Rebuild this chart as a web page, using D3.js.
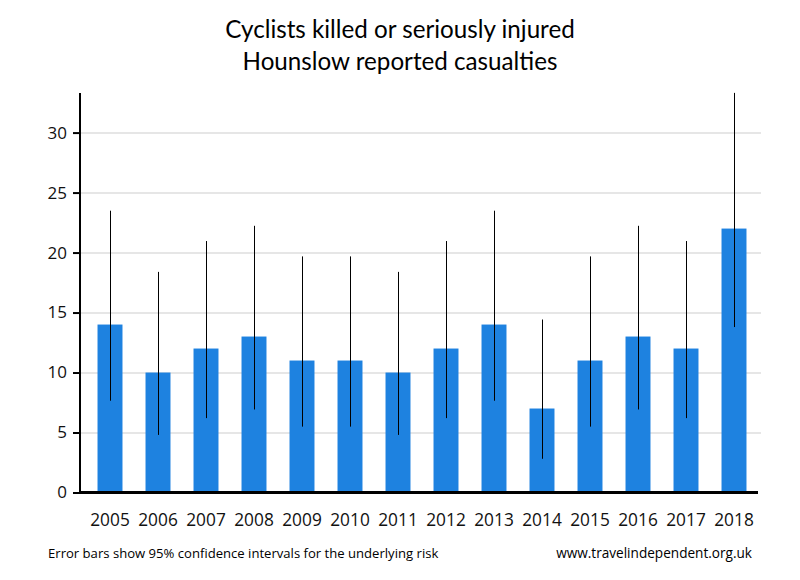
<!DOCTYPE html>
<html><head><meta charset="utf-8">
<script src="https://cdn.jsdelivr.net/npm/d3@7"></script>
<style>body{margin:0;background:#fff}svg{display:block}</style>
</head><body>
<svg id="c" width="800" height="580"></svg>
<script>
const years = ["2005","2006","2007","2008","2009","2010","2011","2012","2013","2014","2015","2016","2017","2018"];
const casualties = [14,10,12,13,11,11,10,12,14,7,11,13,12,22];
const ciLow  = [7.65,4.80,6.20,6.92,5.49,5.49,4.80,6.20,7.65,2.81,5.49,6.92,6.20,13.79];
const ciHigh = [23.49,18.39,20.96,22.23,19.68,19.68,18.39,20.96,23.49,14.42,19.68,22.23,20.96,33.31];
const yTicks = [0,5,10,15,20,25,30];
const titleLines = ["Cyclists killed or seriously injured","Hounslow reported casualties"];
const noteLeft = "Error bars show 95% confidence intervals for the underlying risk";
const noteRight = "www.travelindependent.org.uk";

const svg = d3.select("#c");
const x = d3.scaleBand().domain(years).range([86,758]).paddingInner(0.48).paddingOuter(0.24);
const y = d3.scaleLinear().domain([0,33.3]).range([492.5,93]);
const font = "'Open Sans', sans-serif";
const cx = d => Math.round(x(d)+x.bandwidth()/2)+0.5;

// grid
svg.append("g").selectAll("line").data(yTicks.filter(d=>d>0)).join("line")
  .attr("x1",80).attr("x2",761).attr("y1",d=>Math.round(y(d))).attr("y2",d=>Math.round(y(d)))
  .attr("stroke","#e6e6e6").attr("stroke-width",2);

// bars
svg.append("g").selectAll("rect").data(years).join("rect")
  .attr("x",d=>x(d)).attr("width",x.bandwidth())
  .attr("y",(d,i)=>y(casualties[i])).attr("height",(d,i)=>y(0)-y(casualties[i]))
  .attr("fill","#1e82e0");

// error bars
svg.append("g").selectAll("line").data(years).join("line")
  .attr("x1",cx).attr("x2",cx)
  .attr("y1",(d,i)=>y(ciLow[i])).attr("y2",(d,i)=>y(ciHigh[i]))
  .attr("stroke","#000").attr("stroke-width",1);

// y axis
const ya = svg.append("g").attr("transform","translate(80,0)")
  .call(d3.axisLeft(y).tickValues(yTicks).tickSize(7).tickPadding(6).tickSizeOuter(0));
ya.select(".domain").remove();
ya.selectAll(".tick line").attr("stroke","#000").attr("stroke-width",2);
ya.selectAll("text").attr("font-family",font).attr("font-size",17).attr("fill","#111");
svg.append("line").attr("x1",80).attr("x2",80).attr("y1",93).attr("y2",493.5).attr("stroke","#000").attr("stroke-width",2);

// x axis
const xa = svg.append("g").attr("transform","translate(0,492.5)")
  .call(d3.axisBottom(x).tickSize(0).tickPadding(21));
xa.select(".domain").remove();
xa.selectAll("text").attr("font-family",font).attr("font-size",17.3).attr("fill","#111");
svg.append("line").attr("x1",79).attr("x2",758).attr("y1",492.5).attr("y2",492.5).attr("stroke","#000").attr("stroke-width",3);

// title
svg.append("g").selectAll("text").data(titleLines).join("text")
  .attr("x",400).attr("y",(d,i)=>38+i*32).attr("text-anchor","middle")
  .attr("font-family","Lato, sans-serif").attr("font-size",24.2).attr("fill","#000").text(d=>d);

svg.append("text").attr("x",48).attr("y",558).attr("font-family",font).attr("font-size",13.1).attr("fill","#000").text(noteLeft);
svg.append("text").attr("x",752).attr("y",558).attr("text-anchor","end").attr("font-family",font).attr("font-size",13.6).attr("fill","#000").text(noteRight);
</script>
</body></html>
